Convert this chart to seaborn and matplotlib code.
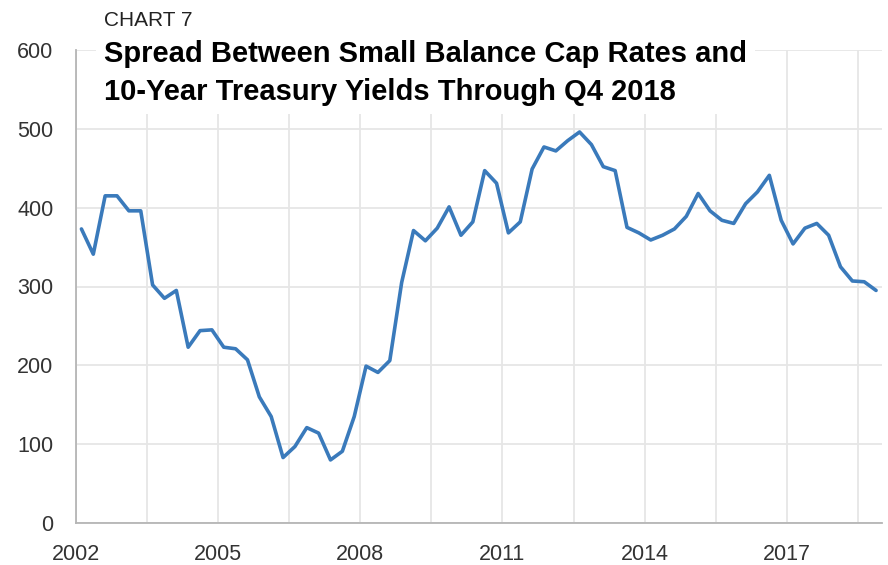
import matplotlib
matplotlib.use("Agg")
import matplotlib.pyplot as plt
import seaborn as sns
import pandas as pd

# ---- data ----
quarter_index = list(range(68))  # 2002 Q1 .. 2018 Q4
spread = [373, 341, 415, 415, 396, 396, 302, 285, 295, 223, 244, 245,
          223, 221, 207, 160, 135, 83, 97, 121, 114, 80, 91, 135,
          199, 191, 206, 305, 371, 358, 374, 401, 365, 382, 447, 431,
          368, 382, 449, 477, 472, 485, 496, 480, 452, 447, 375, 368,
          359, 365, 373, 389, 418, 396, 384, 380, 405, 420, 441, 384,
          354, 374, 380, 365, 325, 307, 306, 295]
x_tick_labels = ["2002", "", "2005", "", "2008", "", "2011", "", "2014", "", "2017", ""]
y_ticks = [0, 100, 200, 300, 400, 500, 600]
chart_label = "CHART 7"
title = "Spread Between Small Balance Cap Rates and\n10-Year Treasury Yields Through Q4 2018"

df = pd.DataFrame({"pos": [i + 0.5 for i in quarter_index], "spread": spread})

sns.set_style("white")
plt.rcParams["font.family"] = ["Liberation Sans", "DejaVu Sans"]

fig = plt.figure(figsize=(8.88, 5.65), dpi=100)
ax = fig.add_axes([75.5 / 888, 1 - 523 / 565, (882 - 75.5) / 888, (523 - 50) / 565])

sns.lineplot(data=df, x="pos", y="spread", ax=ax, color="#3a7abb", linewidth=2.6, zorder=3)

ax.set_xlim(0, 68)
ax.set_ylim(0, 600)
ax.set_xticks(list(range(0, 67, 6)))
ax.set_xticklabels(x_tick_labels)
ax.set_yticks(y_ticks)
ax.set_yticklabels([str(v) for v in y_ticks])
ax.set_xlabel("")
ax.set_ylabel("")

ax.grid(True, color="#e6e6e6", linewidth=1.3, zorder=0)
ax.set_axisbelow(True)
for s in ["top", "right"]:
    ax.spines[s].set_visible(False)
for s in ["left", "bottom"]:
    ax.spines[s].set_color("#b5b5b5")
    ax.spines[s].set_linewidth(1.3)

ax.tick_params(axis="y", length=6, width=1.1, color="#b5b5b5", pad=10,
               labelsize=15.5, labelcolor="#333333")
ax.tick_params(axis="x", length=5, width=1.1, color="#b5b5b5", pad=10,
               labelsize=15.5, labelcolor="#333333")

fig.text(104 / 888, 1 - 20 / 565, chart_label, fontsize=15, color="#222222",
         va="center", ha="left")
fig.text(104 / 888, 1 - 73 / 565, title, fontsize=21, fontweight="bold",
         color="#000000", va="center", ha="left", linespacing=1.42,
         bbox=dict(facecolor="white", edgecolor="none", pad=6), zorder=5)

fig.savefig("out.png", dpi=100, facecolor="white")
